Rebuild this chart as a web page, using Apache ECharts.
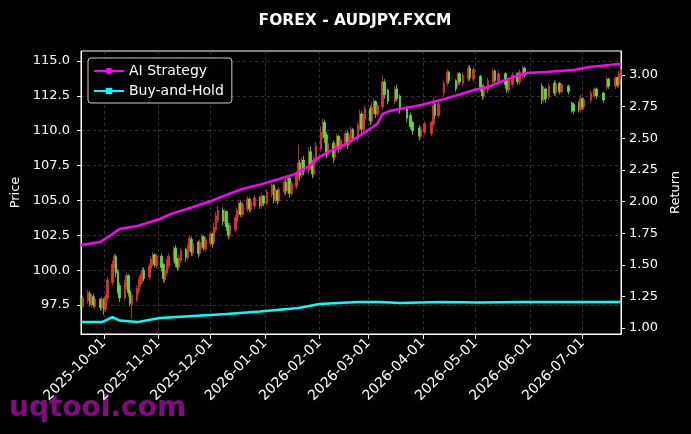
<!DOCTYPE html>
<html>
<head>
<meta charset="utf-8">
<script src="https://cdn.jsdelivr.net/npm/echarts@6/dist/echarts.min.js"></script>
<style>
  html, body { margin: 0; padding: 0; background: #000; }
  #chart { width: 691px; height: 434px; }
</style>
</head>
<body>
<div id="chart"></div>
<script>
// daily candles: date, open, close, low, high
var ohlc = [
  ['2025-09-18', 98.0, 97.4, 97.2, 98.2], ['2025-09-19', 97.4, 98.0, 97.3, 98.2],
  ['2025-09-22', 97.8, 98.4, 97.6, 98.6], ['2025-09-23', 98.3, 97.6, 97.4, 98.5],
  ['2025-09-24', 97.5, 98.1, 97.3, 98.3], ['2025-09-25', 98.1, 97.5, 97.3, 98.3],
  ['2025-09-26', 97.4, 97.9, 97.2, 98.1], ['2025-09-29', 97.9, 97.3, 97.1, 98.0],
  ['2025-09-30', 97.3, 97.9, 97.1, 98.1], ['2025-10-01', 97.9, 97.2, 96.8, 98.0],
  ['2025-10-02', 97.2, 98.1, 97.0, 98.3], ['2025-10-03', 98.0, 99.3, 97.8, 99.5],
  ['2025-10-06', 99.1, 100.4, 98.9, 100.7], ['2025-10-07', 100.2, 101.0, 99.9, 101.2],
  ['2025-10-08', 101.0, 99.8, 99.5, 101.1], ['2025-10-09', 99.9, 98.5, 98.3, 100.1],
  ['2025-10-10', 98.9, 98.0, 97.7, 99.1], ['2025-10-13', 98.0, 99.0, 97.8, 99.3],
  ['2025-10-14', 98.8, 99.6, 98.6, 99.8], ['2025-10-15', 99.6, 98.4, 98.1, 99.7],
  ['2025-10-16', 98.5, 97.6, 97.4, 98.7], ['2025-10-17', 97.5, 98.2, 96.5, 98.4],
  ['2025-10-20', 97.9, 98.7, 97.7, 98.9], ['2025-10-21', 98.5, 99.2, 98.3, 99.4],
  ['2025-10-22', 99.0, 99.6, 98.8, 99.8], ['2025-10-23', 99.3, 100.0, 99.1, 100.2],
  ['2025-10-24', 100.0, 99.4, 99.2, 100.2], ['2025-10-27', 99.5, 100.3, 99.3, 100.5],
  ['2025-10-28', 100.1, 100.8, 99.9, 101.0], ['2025-10-29', 100.5, 101.1, 100.3, 101.3],
  ['2025-10-30', 101.1, 100.4, 100.2, 101.2], ['2025-10-31', 100.3, 101.0, 100.1, 101.2],
  ['2025-11-03', 101.0, 100.2, 99.9, 101.2], ['2025-11-04', 100.4, 99.4, 99.1, 100.5],
  ['2025-11-05', 99.3, 100.0, 99.1, 100.2], ['2025-11-06', 99.8, 100.6, 99.6, 100.8],
  ['2025-11-07', 100.3, 101.0, 100.1, 101.2], ['2025-11-10', 100.8, 101.5, 100.6, 101.7],
  ['2025-11-11', 101.6, 100.5, 100.2, 101.8], ['2025-11-12', 100.8, 100.2, 100.0, 100.9],
  ['2025-11-13', 100.2, 100.9, 100.0, 101.1], ['2025-11-14', 100.7, 101.4, 100.5, 101.6],
  ['2025-11-17', 101.5, 100.9, 100.6, 101.6], ['2025-11-18', 100.9, 101.7, 100.7, 101.9],
  ['2025-11-19', 101.5, 102.3, 101.3, 102.5], ['2025-11-20', 102.2, 101.3, 101.0, 102.4],
  ['2025-11-21', 101.2, 101.9, 101.0, 102.1], ['2025-11-24', 102.0, 101.2, 100.9, 102.1],
  ['2025-11-25', 101.2, 102.0, 101.0, 102.2], ['2025-11-26', 101.7, 102.4, 101.5, 102.6],
  ['2025-11-27', 102.4, 101.6, 101.4, 102.5], ['2025-11-28', 101.5, 102.2, 101.3, 102.4],
  ['2025-12-01', 101.9, 102.6, 101.7, 102.8], ['2025-12-02', 102.6, 101.9, 101.6, 102.7],
  ['2025-12-03', 102.0, 103.1, 101.8, 103.4], ['2025-12-04', 102.9, 103.9, 102.7, 104.2],
  ['2025-12-05', 103.6, 104.3, 103.4, 104.6], ['2025-12-08', 104.3, 103.5, 103.2, 104.5],
  ['2025-12-09', 103.5, 104.2, 103.3, 104.4], ['2025-12-10', 104.2, 103.1, 102.8, 104.3],
  ['2025-12-11', 103.2, 102.5, 102.2, 103.4], ['2025-12-12', 102.5, 103.2, 102.3, 103.4],
  ['2025-12-15', 102.9, 103.8, 102.7, 104.0], ['2025-12-16', 103.5, 104.3, 103.3, 104.5],
  ['2025-12-17', 104.0, 104.8, 103.8, 105.0], ['2025-12-18', 104.8, 104.0, 103.8, 105.0],
  ['2025-12-19', 104.0, 104.7, 103.8, 104.9], ['2025-12-22', 104.4, 105.1, 104.2, 105.3],
  ['2025-12-23', 105.1, 104.4, 104.2, 105.2], ['2025-12-24', 104.3, 104.9, 104.1, 105.1],
  ['2025-12-26', 104.6, 105.2, 104.4, 105.4], ['2025-12-29', 105.2, 104.6, 104.4, 105.3],
  ['2025-12-30', 104.6, 105.3, 104.4, 105.5], ['2025-12-31', 105.3, 104.8, 104.6, 105.4],
  ['2026-01-02', 104.8, 105.6, 104.6, 105.8], ['2026-01-05', 105.4, 106.1, 105.2, 106.2],
  ['2026-01-06', 106.1, 105.1, 104.8, 106.2], ['2026-01-07', 105.0, 105.7, 104.8, 105.9],
  ['2026-01-08', 105.7, 105.0, 104.7, 105.8], ['2026-01-09', 105.0, 105.8, 104.8, 106.0],
  ['2026-01-12', 105.6, 106.3, 105.4, 106.5], ['2026-01-13', 106.3, 105.7, 105.4, 106.5],
  ['2026-01-14', 105.7, 106.6, 105.5, 106.8], ['2026-01-15', 106.6, 105.5, 105.2, 106.7],
  ['2026-01-16', 105.5, 106.2, 105.3, 106.4], ['2026-01-19', 106.0, 106.9, 105.8, 107.1],
  ['2026-01-20', 106.7, 107.7, 106.5, 109.0], ['2026-01-21', 107.7, 106.8, 106.4, 107.9],
  ['2026-01-22', 106.8, 107.9, 106.6, 108.1], ['2026-01-23', 107.9, 107.1, 106.8, 108.2],
  ['2026-01-26', 107.1, 108.5, 106.9, 108.8], ['2026-01-27', 108.5, 107.5, 107.2, 108.9],
  ['2026-01-28', 107.7, 106.9, 106.6, 107.9], ['2026-01-29', 106.9, 108.0, 106.7, 108.2],
  ['2026-01-30', 107.8, 108.9, 107.6, 109.2], ['2026-02-02', 108.7, 109.9, 108.5, 110.3],
  ['2026-02-03', 109.7, 110.6, 109.4, 110.9], ['2026-02-04', 110.6, 109.5, 109.1, 110.8],
  ['2026-02-05', 109.7, 108.3, 108.0, 109.9], ['2026-02-06', 108.3, 109.1, 108.1, 109.4],
  ['2026-02-09', 109.1, 108.1, 107.7, 109.3], ['2026-02-10', 108.1, 109.0, 107.9, 109.2],
  ['2026-02-11', 108.8, 109.6, 108.6, 109.8], ['2026-02-12', 109.6, 108.7, 108.4, 109.7],
  ['2026-02-13', 108.7, 109.3, 108.5, 109.5], ['2026-02-16', 109.0, 109.8, 108.8, 110.0],
  ['2026-02-17', 109.8, 109.0, 108.7, 110.0], ['2026-02-18', 109.0, 109.7, 108.8, 109.9],
  ['2026-02-19', 109.4, 110.1, 109.2, 110.3], ['2026-02-20', 110.1, 109.4, 109.2, 110.2],
  ['2026-02-23', 109.4, 110.4, 109.2, 110.6], ['2026-02-24', 110.2, 111.2, 110.0, 111.5],
  ['2026-02-25', 111.2, 110.1, 109.8, 111.4], ['2026-02-26', 110.1, 111.0, 109.9, 111.3],
  ['2026-02-27', 110.8, 111.6, 110.6, 111.8], ['2026-03-02', 111.6, 110.7, 110.4, 111.8],
  ['2026-03-03', 110.7, 111.7, 110.5, 112.0], ['2026-03-04', 111.4, 112.1, 111.2, 112.3],
  ['2026-03-05', 112.1, 111.2, 110.9, 112.2], ['2026-03-06', 111.2, 111.8, 111.0, 112.0],
  ['2026-03-09', 111.7, 113.5, 111.5, 114.0], ['2026-03-10', 113.5, 112.6, 112.3, 113.7],
  ['2026-03-12', 112.9, 112.1, 111.9, 113.0], ['2026-03-16', 112.1, 112.9, 111.9, 113.2],
  ['2026-03-17', 113.0, 112.3, 112.1, 113.3], ['2026-03-19', 112.5, 111.5, 111.2, 112.6],
  ['2026-03-23', 111.7, 110.9, 110.6, 111.8], ['2026-03-25', 111.1, 110.3, 110.1, 111.3],
  ['2026-03-26', 110.6, 110.0, 109.7, 110.7], ['2026-03-30', 110.2, 109.6, 109.3, 110.4],
  ['2026-03-31', 109.6, 110.1, 109.4, 110.3], ['2026-04-02', 109.9, 110.5, 109.7, 110.7],
  ['2026-04-06', 109.8, 110.6, 109.6, 110.7], ['2026-04-07', 110.5, 111.8, 110.3, 112.4],
  ['2026-04-08', 111.9, 111.1, 110.9, 112.0], ['2026-04-10', 111.1, 111.9, 110.9, 112.1],
  ['2026-04-13', 112.7, 113.4, 112.5, 113.6], ['2026-04-15', 113.4, 114.2, 113.2, 114.4],
  ['2026-04-16', 114.2, 113.6, 113.4, 114.3], ['2026-04-20', 113.6, 113.0, 112.8, 113.7],
  ['2026-04-21', 113.3, 114.0, 113.1, 114.2], ['2026-04-22', 114.1, 113.5, 113.3, 114.2],
  ['2026-04-24', 113.4, 114.0, 113.2, 114.2], ['2026-04-27', 113.7, 114.5, 113.5, 114.7],
  ['2026-04-28', 114.5, 113.8, 113.6, 114.7], ['2026-04-30', 113.7, 114.4, 113.5, 114.6],
  ['2026-05-04', 113.9, 113.1, 112.8, 114.0], ['2026-05-05', 113.2, 112.5, 112.2, 113.3],
  ['2026-05-06', 112.5, 113.2, 112.3, 113.4], ['2026-05-08', 112.9, 113.6, 112.7, 113.8],
  ['2026-05-11', 113.5, 114.3, 113.3, 114.5], ['2026-05-12', 114.3, 113.6, 113.4, 114.4],
  ['2026-05-14', 113.5, 114.1, 113.3, 114.3], ['2026-05-18', 114.1, 113.3, 113.0, 114.2],
  ['2026-05-19', 113.6, 112.9, 112.7, 113.7], ['2026-05-20', 112.9, 113.6, 112.7, 113.8],
  ['2026-05-22', 113.3, 114.0, 113.1, 114.2], ['2026-05-25', 114.1, 113.5, 113.3, 114.2],
  ['2026-05-26', 113.5, 114.2, 113.3, 114.4], ['2026-05-28', 113.9, 114.5, 113.7, 114.7],
  ['2026-05-29', 114.5, 114.0, 113.8, 114.6], ['2026-06-08', 113.2, 112.2, 111.9, 113.4],
  ['2026-06-09', 112.2, 113.0, 112.0, 113.2], ['2026-06-10', 113.0, 112.3, 112.0, 113.1],
  ['2026-06-12', 112.4, 113.2, 112.2, 113.4], ['2026-06-15', 113.4, 112.7, 112.5, 113.6],
  ['2026-06-16', 112.7, 113.4, 112.5, 113.6], ['2026-06-18', 113.4, 112.8, 112.6, 113.5],
  ['2026-06-19', 112.8, 113.3, 112.6, 113.4], ['2026-06-23', 113.2, 112.8, 112.6, 113.3],
  ['2026-06-25', 112.0, 111.5, 111.3, 112.1], ['2026-06-26', 111.9, 111.4, 111.2, 112.0],
  ['2026-06-29', 112.0, 111.5, 111.3, 112.1], ['2026-06-30', 111.5, 112.3, 111.3, 112.6],
  ['2026-07-01', 112.3, 111.7, 111.5, 112.4], ['2026-07-02', 111.7, 112.2, 111.5, 112.4],
  ['2026-07-06', 112.2, 112.7, 112.0, 112.9], ['2026-07-08', 112.5, 113.0, 112.3, 113.1],
  ['2026-07-09', 113.0, 112.5, 112.3, 113.1], ['2026-07-13', 112.7, 112.2, 112.0, 112.8],
  ['2026-07-15', 113.1, 113.7, 112.9, 113.9], ['2026-07-16', 113.7, 113.2, 113.0, 113.8],
  ['2026-07-20', 113.2, 113.8, 113.0, 113.9], ['2026-07-21', 113.8, 113.3, 113.1, 113.9],
  ['2026-07-22', 113.3, 114.1, 113.1, 114.3], ['2026-07-23', 113.9, 114.4, 113.7, 114.5]
];

// cumulative return of the strategy (right axis)
var aiStrategy = [
  ['2025-09-18', 1.656], ['2025-09-29', 1.680], ['2025-10-06', 1.743], ['2025-10-10', 1.783],
  ['2025-10-20', 1.806], ['2025-11-02', 1.862], ['2025-11-08', 1.901], ['2025-11-21', 1.957],
  ['2025-12-01', 2.004], ['2025-12-11', 2.059], ['2025-12-19', 2.099], ['2025-12-30', 2.138],
  ['2026-01-11', 2.186], ['2026-01-18', 2.217], ['2026-01-22', 2.249], ['2026-01-27', 2.289],
  ['2026-02-01', 2.352], ['2026-02-07', 2.399], ['2026-02-15', 2.447], ['2026-02-19', 2.478],
  ['2026-02-28', 2.557], ['2026-03-06', 2.613], ['2026-03-09', 2.692], ['2026-03-13', 2.715],
  ['2026-03-22', 2.739], ['2026-03-31', 2.763], ['2026-04-11', 2.802], ['2026-04-21', 2.842],
  ['2026-04-30', 2.881], ['2026-05-08', 2.905], ['2026-05-15', 2.945], ['2026-05-21', 2.976],
  ['2026-05-30', 3.016], ['2026-06-10', 3.024], ['2026-06-26', 3.040], ['2026-07-05', 3.063],
  ['2026-07-22', 3.087], ['2026-07-23', 3.095]
];

var buyHold = [
  ['2025-09-18', 1.047], ['2025-09-30', 1.047], ['2025-10-06', 1.087], ['2025-10-10', 1.059],
  ['2025-10-20', 1.047], ['2025-11-02', 1.079], ['2025-11-21', 1.095], ['2025-12-10', 1.111],
  ['2025-12-29', 1.130], ['2026-01-20', 1.158], ['2026-02-01', 1.190], ['2026-02-12', 1.198],
  ['2026-02-23', 1.206], ['2026-03-07', 1.206], ['2026-03-19', 1.198], ['2026-04-11', 1.206],
  ['2026-05-04', 1.202], ['2026-05-27', 1.206], ['2026-06-18', 1.206], ['2026-07-12', 1.206],
  ['2026-07-23', 1.206]
];

var priceTicks = [97.5, 100, 102.5, 105, 107.5, 110, 112.5, 115];
var returnTicks = [1.00, 1.25, 1.50, 1.75, 2.00, 2.25, 2.50, 2.75, 3.00];

// calendar days for the date axis
var days = [];
(function () {
  var d = new Date(Date.UTC(2025, 8, 18));
  var end = Date.UTC(2026, 6, 23);
  while (d.getTime() <= end) {
    days.push(d.toISOString().slice(0, 10));
    d.setUTCDate(d.getUTCDate() + 1);
  }
})();

var isMonthStart = function (idx, val) { return val.slice(8) === '01' && idx > 0; };
var font = 'DejaVu Sans';

var chart = echarts.init(document.getElementById('chart'));
chart.setOption({
  backgroundColor: '#000',
  animation: false,
  textStyle: { fontFamily: font },
  title: {
    text: 'FOREX - AUDJPY.FXCM',
    left: 350, top: 8, textAlign: 'center',
    textStyle: { color: '#fff', fontSize: 15.5, fontWeight: 'bold', fontFamily: font }
  },
  legend: {
    left: 88, top: 58,
    orient: 'vertical',
    data: ['AI Strategy', 'Buy-and-Hold'],
    backgroundColor: 'rgba(0,0,0,0.8)',
    borderColor: '#cccccc', borderWidth: 1, borderRadius: 3,
    padding: [6, 8, 5, 5],
    itemWidth: 30, itemHeight: 8, itemGap: 6,
    textStyle: { color: '#fff', fontSize: 14, fontFamily: font }
  },
  grid: {
    left: 81, right: 70, top: 51, bottom: 100,
    show: true, borderColor: '#fff', borderWidth: 1, backgroundColor: '#000'
  },
  xAxis: {
    type: 'category',
    data: days,
    boundaryGap: false,
    axisLine: { lineStyle: { color: '#fff', width: 1 } },
    axisTick: { interval: isMonthStart, length: 5, lineStyle: { color: '#fff' } },
    axisLabel: {
      interval: isMonthStart, rotate: 45, color: '#fff',
      fontSize: 14, margin: 7, fontFamily: font
    },
    splitLine: {
      show: true, interval: isMonthStart,
      lineStyle: { color: '#555', type: [3, 3], width: 0.6 }
    }
  },
  yAxis: [{
    type: 'value',
    min: 95.42, max: 115.72,
    name: 'Price', nameLocation: 'middle', nameGap: 55, nameRotate: 90,
    nameTextStyle: { color: '#fff', fontSize: 13, fontFamily: font },
    axisLine: { show: true, lineStyle: { color: '#fff', width: 1 } },
    axisTick: { show: true, length: 4, customValues: priceTicks, lineStyle: { color: '#fff' } },
    axisLabel: {
      customValues: priceTicks, color: '#fff', fontSize: 13, margin: 11,
      formatter: function (v) { return v.toFixed(1); }
    },
    splitLine: { show: true, lineStyle: { color: '#555', type: [3, 3], width: 0.6 } }
  }, {
    type: 'value',
    position: 'right',
    min: 0.953, max: 3.19,
    name: 'Return', nameLocation: 'middle', nameGap: 46, nameRotate: 90,
    nameTextStyle: { color: '#fff', fontSize: 13, fontFamily: font },
    axisLine: { show: true, lineStyle: { color: '#fff', width: 1 } },
    axisTick: { show: true, length: 4, customValues: returnTicks, lineStyle: { color: '#fff' } },
    axisLabel: {
      customValues: returnTicks, color: '#fff', fontSize: 13, margin: 8,
      formatter: function (v) { return v.toFixed(2); }
    },
    splitLine: { show: false }
  }],
  series: [{
    name: 'Price',
    type: 'candlestick',
    data: ohlc,
    encode: { x: 0, y: [1, 2, 3, 4] },
    barWidth: 2,
    itemStyle: {
      color: '#e8382e', color0: '#5ee83a',
      borderColor: '#e8382e', borderColor0: '#5ee83a',
      borderWidth: 0.8, opacity: 0.95
    }
  }, {
    name: 'AI Strategy',
    type: 'line',
    yAxisIndex: 1,
    data: aiStrategy,
    symbol: 'circle', symbolSize: 5, showSymbol: false,
    lineStyle: { color: '#ff00ff', width: 2.5 },
    itemStyle: { color: '#ff00ff' },
    z: 3
  }, {
    name: 'Buy-and-Hold',
    type: 'line',
    yAxisIndex: 1,
    data: buyHold,
    symbol: 'rect', symbolSize: 5, showSymbol: false,
    lineStyle: { color: '#00ffff', width: 2.5 },
    itemStyle: { color: '#00ffff' },
    z: 3
  }],
  graphic: [{
    type: 'text',
    left: 9, top: 395, z: -10,
    style: {
      text: 'uqtool.com',
      fill: 'rgba(140,10,140,0.95)',
      font: 'bold 28px "DejaVu Sans"'
    }
  }]
});
</script>
</body>
</html>
